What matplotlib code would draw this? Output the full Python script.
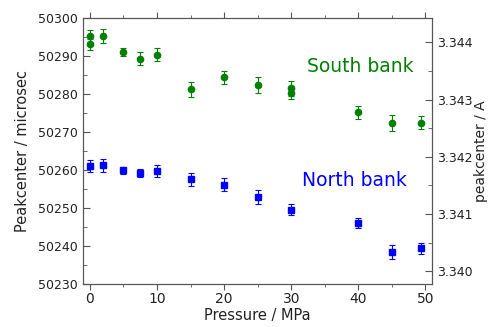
import matplotlib
matplotlib.use('Agg')
import matplotlib.pyplot as plt
from matplotlib.ticker import MultipleLocator, FormatStrFormatter

# South bank (green circles)
south_p = [0, 0, 2, 5, 7.5, 10, 15, 20, 25, 30, 30, 40, 45, 49.3]
south_t = [50295.3, 50293.1, 50295.3, 50291.1, 50289.3, 50290.3, 50281.2,
           50284.4, 50282.3, 50281.5, 50280.4, 50275.2, 50272.4, 50272.4]
south_err = [1.6, 1.5, 1.8, 1.1, 1.75, 1.7, 1.9, 1.7, 2.1, 2.0, 1.7, 1.75, 2.2, 1.7]

# North bank (blue squares)
north_p = [0, 2, 5, 7.5, 10, 15, 20, 25, 30, 40, 45, 49.3]
north_t = [50261.1, 50261.3, 50259.9, 50259.2, 50259.8, 50257.6, 50256.2,
           50253.0, 50249.6, 50246.0, 50238.5, 50239.4]
north_err = [1.6, 1.7, 1.0, 1.1, 1.6, 1.75, 1.6, 1.8, 1.5, 1.3, 1.9, 1.5]

green = '#008000'
blue = '#0000ff'
grey = '#555555'
dark = '#222222'

fig, ax = plt.subplots(figsize=(4.9, 3.27), dpi=100)
fig.subplots_adjust(left=0.169, right=0.882, top=0.945, bottom=0.131)

ax.errorbar(south_p, south_t, yerr=south_err, fmt='o', color=green, ms=4.5,
            ecolor=green, elinewidth=0.8, capsize=2, capthick=0.8)
ax.errorbar(north_p, north_t, yerr=north_err, fmt='s', color=blue, ms=4.2,
            ecolor=blue, elinewidth=0.8, capsize=2, capthick=0.8)

ax.set_xlim(-1.05, 51.0)
ax.set_ylim(50230, 50300)
ax.xaxis.set_major_locator(MultipleLocator(10))
ax.xaxis.set_minor_locator(MultipleLocator(5))
ax.yaxis.set_major_locator(MultipleLocator(10))
ax.yaxis.set_minor_locator(MultipleLocator(5))
ax.tick_params(axis='x', which='both', direction='out', colors=grey, labelcolor=dark, labelsize=10, pad=2)
ax.tick_params(axis='x', which='major', length=4)
ax.tick_params(axis='x', which='minor', length=2.5)
ax.tick_params(axis='y', which='both', direction='in', colors=grey, labelcolor=dark, labelsize=9)
ax.tick_params(axis='y', which='major', length=5)
ax.tick_params(axis='y', which='minor', length=3)
ax.tick_params(top=True, which='both')

ax.set_xlabel('Pressure / MPa', fontsize=10.5, color=dark, labelpad=1)
ax.set_ylabel('Peakcenter / microsec', fontsize=10.5, color=dark, labelpad=6)

ax.text(360, 327 - 66, 'South bank', transform=None, color=green, fontsize=13.5,
        ha='center', va='center')
ax.text(354, 327 - 181, 'North bank', transform=None, color=blue, fontsize=13.5,
        ha='center', va='center')

ax2 = ax.twinx()
ax2.set_ylim(3.339773, 3.344425)
ax2.yaxis.set_major_locator(MultipleLocator(0.001))
ax2.yaxis.set_minor_locator(MultipleLocator(0.0005))
ax2.yaxis.set_major_formatter(FormatStrFormatter('%.3f'))
ax2.tick_params(axis='y', which='both', direction='in', colors=grey, labelcolor=dark, labelsize=9)
ax2.tick_params(axis='y', which='major', length=5)
ax2.tick_params(axis='y', which='minor', length=3)
ax2.set_ylabel('peakcenter / A', fontsize=10, color=dark, labelpad=1)

for a in (ax, ax2):
    for s in a.spines.values():
        s.set_color(grey)
        s.set_linewidth(0.8)

fig.savefig('out.png', dpi=100)
